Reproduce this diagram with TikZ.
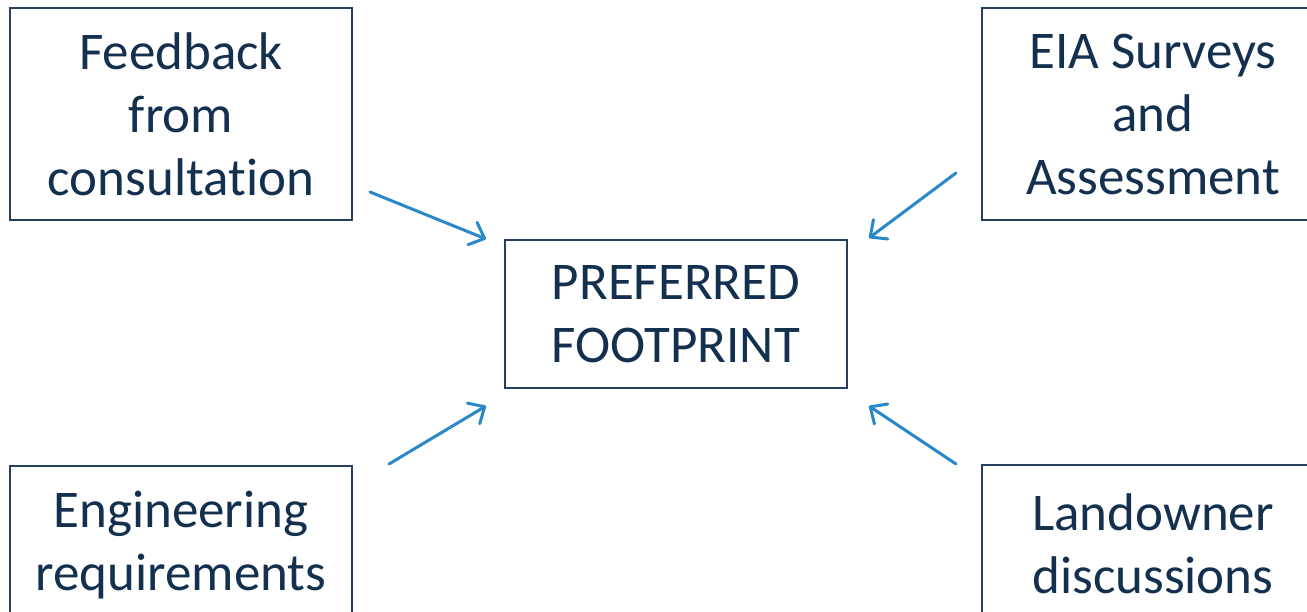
\documentclass[tikz,border=0pt]{standalone}
\usepackage{fontspec}
\setmainfont{Carlito}[Ligatures=NoCommon]
\usetikzlibrary{arrows.meta}
\definecolor{txt}{HTML}{14304F}
\definecolor{edge}{HTML}{243F60}
\definecolor{arr}{HTML}{2B88C8}
\tikzset{
  box/.style={draw=edge, line width=1.5pt, text=txt, align=center, inner sep=0pt,
    minimum width=342pt, font=\fontsize{53}{63}\selectfont},
  flow/.style={draw=arr, line width=3pt, line cap=round,
    -{Straight Barb[length=13pt,width=24pt,line width=3pt,round]}}
}
\begin{document}
\begin{tikzpicture}[x=1pt,y=-1pt]
\clip (0,0) rectangle (1307,612);
\fill[white] (0,0) rectangle (1307,612);
\node[box, minimum height=212pt] (fb) at (181,114) {Feedback\\from\\consultation};
\node[box, minimum height=212pt] (eia) at (1153,114) {EIA Surveys\\and\\Assessment};
\node[box, minimum height=148pt] (pf) at (676,314) {PREFERRED\\FOOTPRINT};
\node[box, minimum height=158pt] (eng) at (181,545) {Engineering\\requirements};
\node[box, minimum height=158pt] (land) at (1153,544) {Landowner\\discussions};
\coordinate (a1s) at (370,192); \coordinate (a1e) at (486,239);
\coordinate (a2s) at (956,173); \coordinate (a2e) at (869,238);
\coordinate (a3s) at (389,464); \coordinate (a3e) at (486,406);
\coordinate (a4s) at (956,464); \coordinate (a4e) at (869,406);
\draw[flow] (a1s) -- (a1e);
\draw[flow] (a2s) -- (a2e);
\draw[flow] (a3s) -- (a3e);
\draw[flow] (a4s) -- (a4e);
\end{tikzpicture}
\end{document}
